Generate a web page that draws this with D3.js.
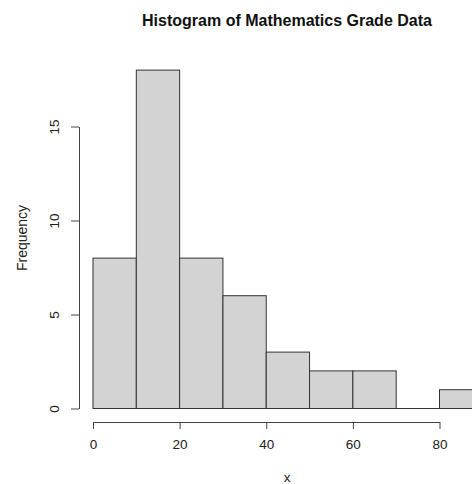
<!DOCTYPE html>
<html><head><meta charset="utf-8">
<script src="https://cdn.jsdelivr.net/npm/d3@7"></script>
<style>body{margin:0;background:#fff;overflow:hidden}svg{display:block;font-family:"Liberation Sans",Arial,sans-serif}</style>
</head><body>
<script>
const binStarts = [0, 10, 20, 30, 40, 50, 60, 70, 80];
const binWidth = 10;
const counts = [8, 18, 8, 6, 3, 2, 2, 0, 1];
const xTicks = [0, 20, 40, 60, 80];
const yTicks = [0, 5, 10, 15];
const title = "Histogram of Mathematics Grade Data";
const xLabel = "x";
const yLabel = "Frequency";

const W = 472, H = 484;
const svg = d3.select("body").append("svg").attr("width", W).attr("height", H);

const x = d3.scaleLinear().domain([0, 80]).range([93, 439.5]);
const y = d3.scaleLinear().domain([0, 15]).range([408.5, 126.5]);

// bars
svg.append("g").selectAll("rect")
  .data(binStarts.map((s, i) => ({s, c: counts[i]})).filter(d => d.c > 0))
  .join("rect")
  .attr("x", d => x(d.s))
  .attr("width", d => x(d.s + binWidth) - x(d.s))
  .attr("y", d => y(d.c))
  .attr("height", d => y(0) - y(d.c))
  .attr("fill", "#d3d3d3")
  .attr("stroke", "#333")
  .attr("stroke-width", 1);

// baseline segment across empty bin
svg.append("line")
  .attr("x1", x(70)).attr("x2", x(80))
  .attr("y1", y(0)).attr("y2", y(0))
  .attr("stroke", "#333");

// x axis
const xa = svg.append("g").attr("transform", "translate(0,422)");
xa.call(d3.axisBottom(x).tickValues(xTicks).tickSize(7).tickPadding(10).tickSizeOuter(0));
xa.select(".domain").attr("stroke", "#444");
xa.selectAll(".tick line").attr("stroke", "#444");
xa.selectAll(".tick text").attr("font-size", 13.5).attr("fill", "#222").attr("font-family", "Liberation Sans, Arial, sans-serif");

// y axis
const ya = svg.append("g").attr("transform", "translate(79,0)");
ya.call(d3.axisLeft(y).tickValues(yTicks).tickSize(8).tickPadding(0).tickSizeOuter(0));
ya.select(".domain").attr("stroke", "#444");
ya.selectAll(".tick line").attr("stroke", "#444");
ya.selectAll(".tick text")
  .attr("font-size", 13.5).attr("fill", "#222")
  .attr("font-family", "Liberation Sans, Arial, sans-serif")
  .attr("text-anchor", "middle")
  .attr("dy", null)
  .attr("transform", "translate(-25,0) rotate(-90)")
  .attr("x", 0).attr("y", 0)
  .attr("dominant-baseline", "central");

// title
svg.append("text").attr("x", 287).attr("y", 26)
  .attr("text-anchor", "middle").attr("font-weight", "bold").attr("font-size", 16)
  .attr("fill", "#111").text(title);

// x label
svg.append("text").attr("x", 287).attr("y", 481.5)
  .attr("text-anchor", "middle").attr("font-size", 13.5).attr("fill", "#222").text(xLabel);

// y label
svg.append("text").attr("transform", "translate(27,238) rotate(-90)")
  .attr("text-anchor", "middle").attr("font-size", 14).attr("fill", "#222").text(yLabel);
</script>
</body></html>
